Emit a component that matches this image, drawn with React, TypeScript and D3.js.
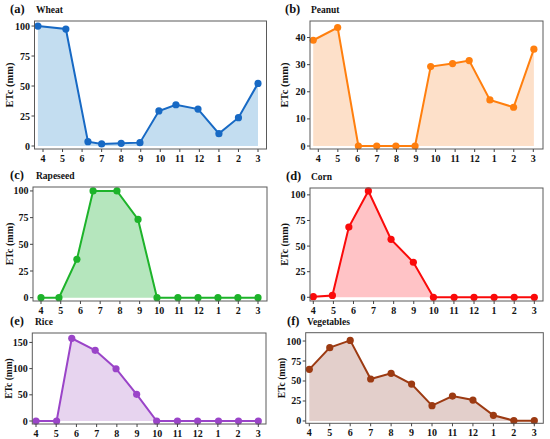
import * as d3 from "d3";

const months = ["4", "5", "6", "7", "8", "9", "10", "11", "12", "1", "2", "3"];

// x position of each point, in month-index units (0 = month 4)
const wheatX = [-0.26, 1.17, 2.3, 3.0, 4.0, 4.96, 5.93, 6.8, 7.93, 9.0, 10.0, 11.0];
const wheatY = [100, 97.5, 3.6, 1.7, 2.2, 2.8, 29.2, 34.4, 30.8, 10.3, 23.6, 52.2];

const peanutX = [-0.26, 0.99, 2.05, 2.99, 3.97, 4.95, 5.75, 6.87, 7.72, 8.78, 9.99, 11.03];
const peanutY = [39.0, 43.7, 0, 0, 0, 0, 29.3, 30.4, 31.5, 17.0, 14.3, 35.7];

const rapeseedX = [0, 0.91, 1.82, 2.64, 3.85, 4.92, 5.88, 6.94, 7.96, 8.97, 9.98, 11];
const rapeseedY = [0, 0, 36, 100, 100, 73.3, 0, 0, 0, 0, 0, 0];

const cornX = [0, 0.95, 1.77, 2.74, 3.87, 4.98, 5.98, 7.01, 8.0, 9.0, 10.0, 11.0];
const cornY = [0.6, 1.8, 68.6, 103.8, 56.6, 34.2, 0, 0, 0, 0, 0, 0];

const riceX = [0, 1.02, 1.77, 2.93, 3.96, 4.98, 5.97, 7.0, 8.0, 9.03, 10.02, 11.0];
const riceY = [0, 0, 157.8, 134.9, 99.8, 50.9, 0, 0, 0, 0, 0, 0];

const vegX = [0, 1, 2, 3, 4, 5, 6, 7, 8, 9, 10, 11];
const vegY = [64.6, 91.7, 100.8, 52.5, 59.6, 46.2, 19.2, 31.2, 26.2, 7.1, 0.4, 0.4];

const ticksA = [0, 25, 50, 75, 100];
const ticksB = [0, 10, 20, 30, 40];
const ticksE = [0, 50, 100, 150];

interface Panel {
  tag: string;
  name: string;
  xs: number[];
  ys: number[];
  yTicks: number[];
  yDomain: [number, number];
  color: string;
  fill: string;
  // frame and tick pixel layout
  left: number;
  right: number;
  top: number;
  bottom: number;
  x0: number;
  x11: number;
  nameX: number;
  tagX: number;
  labelX: number;
  labelSize: number;
}

const panels: Panel[] = [
  {
    tag: "(a)", name: "Wheat", xs: wheatX, ys: wheatY, yTicks: ticksA, yDomain: [-2.5, 104.2],
    color: "#1769c4", fill: "#c3ddf0",
    left: 34.5, right: 266.5, top: 21, bottom: 149, x0: 43, x11: 258, tagX: 10, nameX: 36, labelX: 9, labelSize: 10.5,
  },
  {
    tag: "(b)", name: "Peanut", xs: peanutX, ys: peanutY, yTicks: ticksB, yDomain: [-1.1, 46.1],
    color: "#ff7f0e", fill: "#fde0c9",
    left: 310, right: 543, top: 21, bottom: 149, x0: 318.3, x11: 533.3, tagX: 285, nameX: 311, labelX: 284, labelSize: 10.5,
  },
  {
    tag: "(c)", name: "Rapeseed", xs: rapeseedX, ys: rapeseedY, yTicks: ticksA, yDomain: [-3.1, 103.7],
    color: "#1db32a", fill: "#b5e6bd",
    left: 33, right: 267, top: 187, bottom: 301, x0: 41, x11: 258, tagX: 10, nameX: 36, labelX: 9, labelSize: 10,
  },
  {
    tag: "(d)", name: "Corn", xs: cornX, ys: cornY, yTicks: ticksA, yDomain: [-3.6, 106.7],
    color: "#fa0a0a", fill: "#ffc3c6",
    left: 310, right: 543, top: 188, bottom: 301, x0: 313.3, x11: 534.3, tagX: 286, nameX: 311, labelX: 284, labelSize: 10,
  },
  {
    tag: "(e)", name: "Rice", xs: riceX, ys: riceY, yTicks: ticksE, yDomain: [-5.7, 168],
    color: "#9a44c8", fill: "#e7d4ef",
    left: 32.3, right: 266, top: 333, bottom: 424, x0: 36, x11: 258.3, tagX: 10, nameX: 35, labelX: 9, labelSize: 9.5,
  },
  {
    tag: "(f)", name: "Vegetables", xs: vegX, ys: vegY, yTicks: ticksA, yDomain: [-2.9, 110.4],
    color: "#9c3a12", fill: "#e3cfcb",
    left: 305.7, right: 543.3, top: 332.7, bottom: 423.3, x0: 309.3, x11: 534.3, tagX: 287, nameX: 307, labelX: 282, labelSize: 9.5,
  },
];

const font = "'Liberation Serif', 'Times New Roman', serif";

function ChartPanel({ p }: { p: Panel }) {
  const x = d3.scaleLinear().domain([0, 11]).range([p.x0, p.x11]);
  const y = d3.scaleLinear().domain(p.yDomain).range([p.bottom, p.top]);
  const pts = p.xs.map((xv, i) => [xv, p.ys[i]] as [number, number]);

  const line = d3
    .line<[number, number]>()
    .x((d) => x(d[0]))
    .y((d) => y(d[1]));
  const area = d3
    .area<[number, number]>()
    .x((d) => x(d[0]))
    .y0(y(0))
    .y1((d) => y(d[1]));

  const titleY = p.top - 8;
  const midY = (p.top + p.bottom) / 2;

  return (
    <g>
      <path d={area(pts) || ""} fill={p.fill} />
      <path d={line(pts) || ""} fill="none" stroke={p.color} strokeWidth={2} />
      {pts.map((d, i) => (
        <circle key={i} cx={x(d[0])} cy={y(d[1])} r={3.6} fill={p.color} />
      ))}
      <rect
        x={p.left}
        y={p.top}
        width={p.right - p.left}
        height={p.bottom - p.top}
        fill="none"
        stroke="#5a5a5a"
        strokeWidth={1}
      />
      {months.map((m, i) => (
        <g key={m} transform={`translate(${x(i)},${p.bottom})`}>
          <line y1={0} y2={3} stroke="#444" />
          <text
            y={12.5}
            textAnchor="middle"
            fontFamily={font}
            fontWeight="bold"
            fontSize={10}
            fill="#111"
          >
            {m}
          </text>
        </g>
      ))}
      {p.yTicks.map((t) => (
        <g key={t} transform={`translate(${p.left},${y(t)})`}>
          <line x1={-3} x2={0} stroke="#444" />
          <text
            x={-4.5}
            dy="0.35em"
            textAnchor="end"
            fontFamily={font}
            fontWeight="bold"
            fontSize={10}
            fill="#111"
          >
            {t}
          </text>
        </g>
      ))}
      <text
        transform={`translate(${p.labelX},${midY}) rotate(-90)`}
        textAnchor="middle"
        dy="0.35em"
        fontFamily={font}
        fontWeight="bold"
        fontSize={p.labelSize}
        fill="#111"
      >
        ETc (mm)
      </text>
      <text x={p.tagX} y={titleY} fontFamily={font} fontWeight="bold" fontSize={12.5} fill="#111">
        {p.tag}
      </text>
      <text x={p.nameX} y={titleY} fontFamily={font} fontWeight="bold" fontSize={9.5} fill="#111">
        {p.name}
      </text>
    </g>
  );
}

export default function App() {
  return (
    <svg
      width={550}
      height={439}
      style={{ position: "absolute", left: 0, top: 0, background: "#fff" }}
    >
      {panels.map((p) => (
        <ChartPanel key={p.tag} p={p} />
      ))}
    </svg>
  );
}
